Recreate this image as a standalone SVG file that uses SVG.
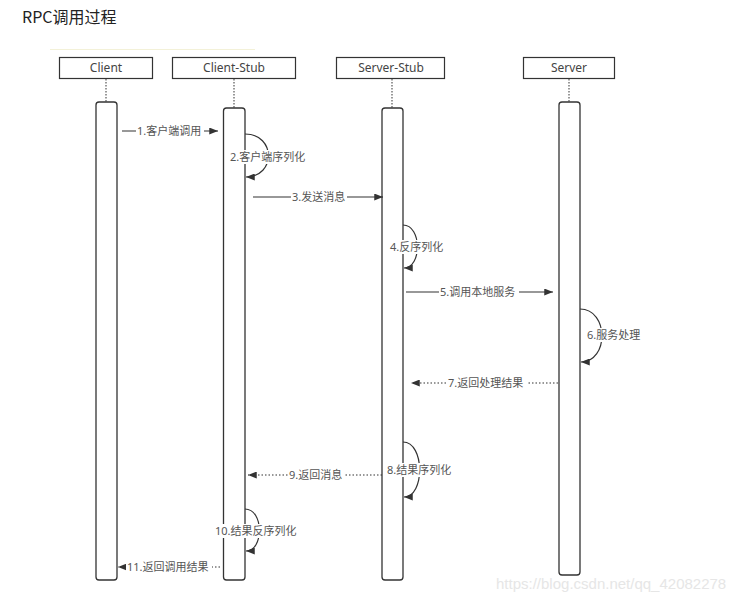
<svg xmlns="http://www.w3.org/2000/svg" width="747" height="602" viewBox="0 0 747 602">
<style>
.hd{fill:#fff;stroke:#333;stroke-width:1.2}
.hdt{font-family:"Noto Sans","Noto Sans CJK SC",sans-serif;font-size:12px;fill:#444;text-anchor:middle}
.act{fill:#fff;stroke:#333;stroke-width:1.3}
.life{stroke:#555;stroke-width:1.2;stroke-dasharray:1.5 1.5;fill:none}
.msg{stroke:#333;stroke-width:1.2;fill:none}
.ret{stroke:#333;stroke-width:1.2;fill:none;stroke-dasharray:1.5 2}
.lb{font-family:"Noto Sans","Noto Sans CJK SC",sans-serif;font-size:11px;fill:#555}
.bg{fill:#fff}
</style>
<defs>
<marker id="ah" viewBox="0 0 10 8" refX="10" refY="4" markerWidth="9" markerHeight="7" markerUnits="userSpaceOnUse" orient="auto">
<path d="M0,0 L10,4 L0,8 Z" fill="#333"/>
</marker>
</defs>
<rect width="747" height="602" fill="#fff"/>
<text x="22" y="23" font-family="'Noto Sans CJK SC','Noto Sans',sans-serif" font-size="16" fill="#222">RPC调用过程</text>
<line x1="50" y1="49.5" x2="255" y2="49.5" stroke="#f3f1d8" stroke-width="1"/>

<g id="client">
<rect class="hd" x="59.5" y="57.5" width="93" height="21"/>
<text class="hdt" x="106" y="72">Client</text>
<line class="life" x1="106" y1="79" x2="106" y2="102"/>
<rect class="act" x="96" y="102" width="21" height="478" rx="3"/>
</g>
<g id="client-stub">
<rect class="hd" x="172.5" y="57.5" width="123" height="21"/>
<text class="hdt" x="234" y="72">Client-Stub</text>
<line class="life" x1="234" y1="79" x2="234" y2="108"/>
<rect class="act" x="223.5" y="108" width="21.5" height="472" rx="3"/>
</g>
<g id="server-stub">
<rect class="hd" x="336.5" y="57.5" width="108" height="21"/>
<text class="hdt" x="391" y="72">Server-Stub</text>
<line class="life" x1="392" y1="79" x2="392" y2="108"/>
<rect class="act" x="382" y="108" width="21" height="472" rx="3"/>
</g>
<g id="server">
<rect class="hd" x="523.5" y="57.5" width="91" height="21"/>
<text class="hdt" x="569" y="72">Server</text>
<line class="life" x1="569" y1="79" x2="569" y2="102"/>
<rect class="act" x="559" y="102" width="21" height="473" rx="3"/>
</g>

<g id="connectors">
<!-- 1 -->
<line class="msg" x1="122" y1="131" x2="218" y2="131" marker-end="url(#ah)"/>
<rect class="bg" x="136" y="124" width="68" height="14"/>
<text class="lb" x="137" y="135">1.客户端调用</text>
<!-- 2 -->
<path class="msg" d="M245,134 C276,134 276,177 246,177" marker-end="url(#ah)"/>
<rect class="bg" x="229" y="150" width="80" height="14"/>
<text class="lb" x="230" y="161">2.客户端序列化</text>
<!-- 3 -->
<line class="msg" x1="253" y1="197" x2="383" y2="197" marker-end="url(#ah)"/>
<rect class="bg" x="291" y="190" width="56" height="14"/>
<text class="lb" x="292" y="201">3.发送消息</text>
<!-- 4 -->
<path class="msg" d="M403,225 C422,225 422,268 404,268" marker-end="url(#ah)"/>
<rect class="bg" x="389" y="240" width="57" height="14"/>
<text class="lb" x="390" y="251">4.反序列化</text>
<!-- 5 -->
<line class="msg" x1="406" y1="292" x2="553" y2="292" marker-end="url(#ah)"/>
<rect class="bg" x="439" y="285" width="80" height="14"/>
<text class="lb" x="440" y="296">5.调用本地服务</text>
<!-- 6 -->
<path class="msg" d="M580,309 C609,309 609,362 581,362" marker-end="url(#ah)"/>
<rect class="bg" x="586" y="328" width="58" height="14"/>
<text class="lb" x="587" y="339">6.服务处理</text>
<!-- 7 -->
<line class="ret" x1="558" y1="383" x2="411" y2="383" marker-end="url(#ah)"/>
<rect class="bg" x="447" y="376" width="80" height="14"/>
<text class="lb" x="448" y="387">7.返回处理结果</text>
<!-- 8 -->
<path class="msg" d="M403,442 C425,442 425,497 404,497" marker-end="url(#ah)"/>
<!-- 9 -->
<line class="ret" x1="382" y1="475" x2="248" y2="475" marker-end="url(#ah)"/>
<rect class="bg" x="288" y="468" width="57" height="14"/>
<text class="lb" x="289" y="479">9.返回消息</text>
<rect class="bg" x="386" y="463" width="68" height="14"/>
<text class="lb" x="387" y="474">8.结果序列化</text>
<!-- 10 -->
<path class="msg" d="M245,509 C264,509 264,551 246,551" marker-end="url(#ah)"/>
<rect class="bg" x="214" y="524" width="88" height="14"/>
<text class="lb" x="215" y="535">10.结果反序列化</text>
<!-- 11 -->
<line class="ret" x1="220" y1="567" x2="118" y2="567" marker-end="url(#ah)"/>
<rect class="bg" x="126" y="560" width="86" height="14"/>
<text class="lb" x="127" y="571">11.返回调用结果</text>
</g>
<text x="496" y="589" font-family="'Liberation Sans',Arial,sans-serif" font-size="15" fill="#e6e6e6">https://blog.csdn.net/qq_42082278</text>
</svg>
